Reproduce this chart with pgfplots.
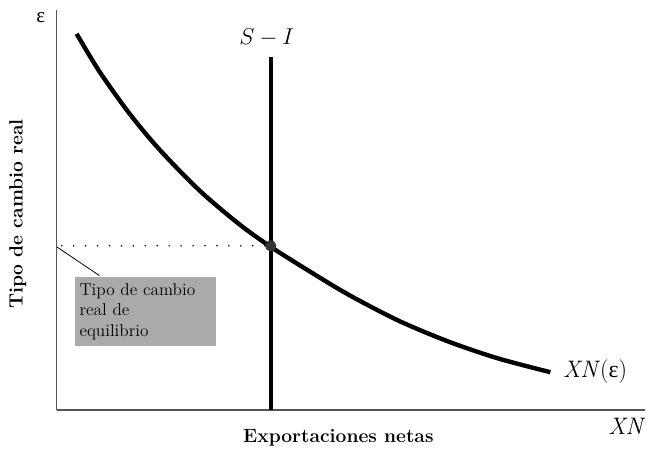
\documentclass[border=0pt]{standalone}
\usepackage{fontspec}
\usepackage{pgfplots}
\pgfplotsset{compat=1.18}
\newfontfamily\gk{Liberation Serif}
\definecolor{axGrey}{HTML}{555555}
\definecolor{boxGrey}{HTML}{A9AAAC}
\definecolor{dotGrey}{HTML}{333333}
\begin{document}
\begin{tikzpicture}
\begin{axis}[
  x=0.75pt, y=0.75pt,
  xmin=57, xmax=648, ymin=47, ymax=449,
  axis x line=bottom, axis y line=left,
  axis line style={axGrey, line width=0.9pt, -},
  xtick=\empty, ytick=\empty,
  clip=false,
]
% page frame (650 x 459 px)
\path (axis cs:0,0) rectangle (axis cs:650,459);
% XN(eps) curve
\addplot[black, line width=3.3pt, smooth, line cap=butt] coordinates {
  (77,425) (100,387) (130,345) (160,309) (200,268) (240,234) (272,211)
  (310,187) (350,163) (400,137) (450,116) (500,99) (553,85)};
% S - I vertical line
\addplot[black, line width=3.3pt] coordinates {(272,402) (272,47)};
% dotted equilibrium line
\addplot[black, line width=1.3pt, dash pattern=on 0pt off 9pt, line cap=round]
  coordinates {(62,212) (268,212)};
\addplot[only marks, mark=*, mark size=4pt, dotGrey] coordinates {(272,212)};
% annotation
\addplot[black, line width=0.6pt] coordinates {(57,211) (100,182)};
\node[fill=boxGrey, anchor=north west, minimum width=106pt, minimum height=52pt,
      inner sep=3.5pt, align=left, text width=99pt,
      font=\fontsize{13}{15.5}\selectfont] at (axis cs:75,181)
  {Tipo de cambio\\real de\\equilibrio};
% labels
\node[font=\fontsize{18}{22}\selectfont] at (axis cs:268,421) {$S-I$};
\node[anchor=west, font=\fontsize{18}{22}\selectfont] at (axis cs:561,86) {\textit{XN}({\gk ε})};
\node[font=\fontsize{18}{22}\selectfont] at (axis cs:630,31) {\textit{XN}};
\node[font=\fontsize{16}{20}\selectfont\gk] at (axis cs:41,441) {ε};
\node[font=\fontsize{14.5}{18}\selectfont\bfseries] at (axis cs:340,19) {Exportaciones netas};
\node[rotate=90, font=\fontsize{14.5}{18}\selectfont\bfseries] at (axis cs:18,244) {Tipo de cambio real};
\end{axis}
\end{tikzpicture}
\end{document}
